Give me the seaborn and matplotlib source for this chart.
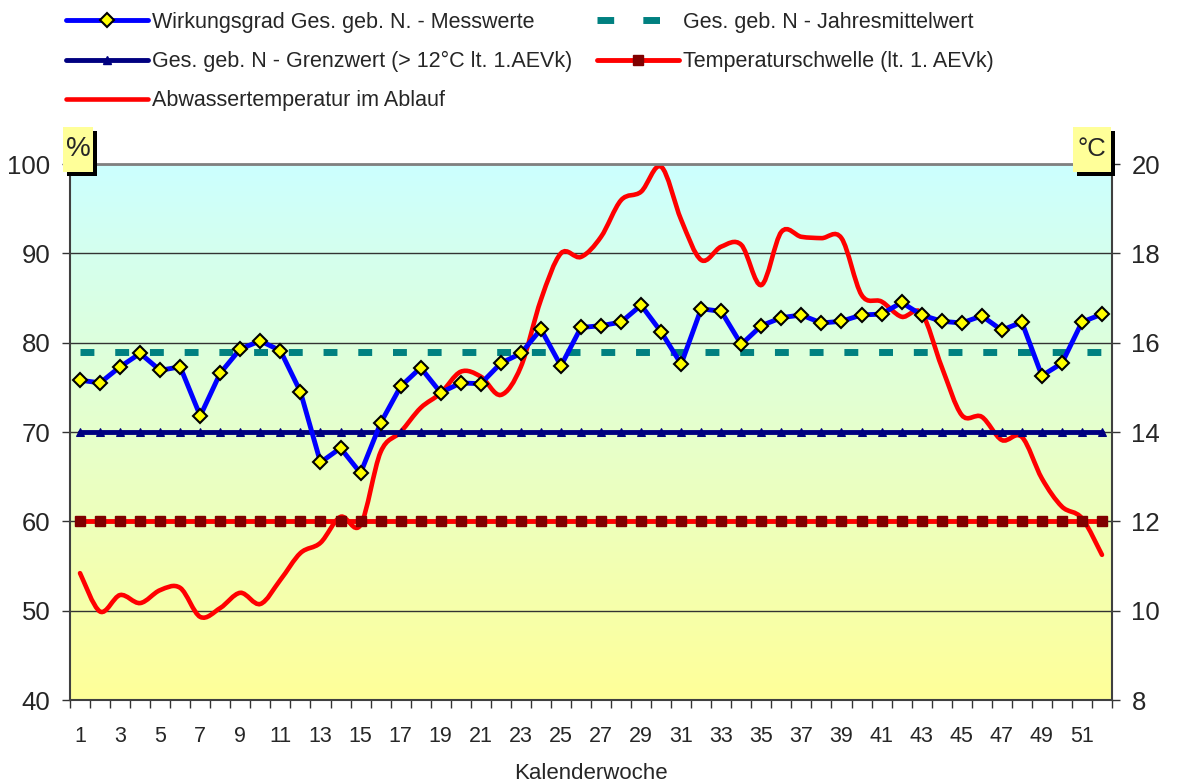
import numpy as np
import matplotlib
matplotlib.use('Agg')
import matplotlib.pyplot as plt
import seaborn as sns
from matplotlib.colors import LinearSegmentedColormap
from matplotlib.path import Path
from matplotlib.patches import PathPatch, Rectangle
from matplotlib.lines import Line2D

# --- data ---
weeks = list(range(1, 53))
wirkungsgrad = [75.8, 75.5, 77.3, 78.8, 76.9, 77.3, 71.8, 76.6, 79.3, 80.2,
                79.1, 74.5, 66.6, 68.2, 65.4, 71.0, 75.1, 77.2, 74.4, 75.5,
                75.4, 77.7, 78.8, 81.5, 77.4, 81.7, 81.9, 82.3, 84.2, 81.2,
                77.6, 83.8, 83.5, 79.8, 81.9, 82.8, 83.1, 82.2, 82.4, 83.1,
                83.2, 84.5, 83.1, 82.4, 82.2, 83.0, 81.4, 82.3, 76.3, 77.7,
                82.3, 83.2]
temperatur = [10.84, 9.98, 10.35, 10.17, 10.46, 10.51, 9.86, 10.06, 10.40, 10.15,
              10.69, 11.29, 11.52, 12.10, 11.92, 13.55, 14.00, 14.54, 14.87, 15.35,
              15.24, 14.83, 15.46, 16.96, 18.00, 17.92, 18.37, 19.19, 19.38, 19.94,
              18.75, 17.85, 18.15, 18.19, 17.29, 18.48, 18.37, 18.34, 18.34, 17.07,
              16.92, 16.58, 16.66, 15.46, 14.38, 14.34, 13.82, 13.89, 12.96, 12.33,
              12.07, 11.25]
jahresmittel = 78.9
grenzwert = 70
temp_schwelle = 12
pct_ticks = [40, 50, 60, 70, 80, 90, 100]
temp_ticks = [8, 10, 12, 14, 16, 18, 20]

labels_left = ["Wirkungsgrad Ges. geb. N. - Messwerte",
               "Ges. geb. N - Grenzwert (> 12°C lt. 1.AEVk)",
               "Abwassertemperatur im Ablauf"]
labels_right = ["Ges. geb. N - Jahresmittelwert",
                "Temperaturschwelle (lt. 1. AEVk)"]

sns.set_style('ticks')
plt.rcParams['font.family'] = ['Liberation Sans', 'DejaVu Sans']

W, H = 1178, 783
fig = plt.figure(figsize=(W / 100, H / 100), dpi=100)
ax = fig.add_axes([70 / W, 1 - 700 / H, (1112 - 70) / W, (700 - 164) / H])
ax2 = ax.twinx()
ax.set_zorder(ax2.get_zorder() + 1)
ax.patch.set_visible(False)


def smooth_path(x, y):
    # Excel-style smoothed line: cubic bezier through every point
    x = np.asarray(x, float)
    y = np.asarray(y, float)
    px = np.concatenate([[x[0]], x, [x[-1]]])
    py = np.concatenate([[y[0]], y, [y[-1]]])
    verts = [(x[0], y[0])]
    codes = [Path.MOVETO]
    for i in range(1, len(x)):
        c1 = (px[i] + (px[i + 1] - px[i - 1]) / 6, py[i] + (py[i + 1] - py[i - 1]) / 6)
        c2 = (px[i + 1] - (px[i + 2] - px[i]) / 6, py[i + 1] - (py[i + 2] - py[i]) / 6)
        verts += [c1, c2, (px[i + 1], py[i + 1])]
        codes += [Path.CURVE4] * 3
    return Path(verts, codes)


# background gradient on the lower (temperature) axis
cmap = LinearSegmentedColormap.from_list('bg', ['#FFFF99', '#CCFFFF'])
grad = np.linspace(0, 1, 256).reshape(-1, 1)
ax2.imshow(grad, extent=(0, 1, 0, 1), transform=ax2.transAxes, aspect='auto',
           cmap=cmap, origin='lower', zorder=0)

# temperature curve + threshold on right axis
ax2.add_patch(PathPatch(smooth_path(weeks, temperatur), fill=False,
                        edgecolor='#FF0000', lw=3.3, zorder=2, capstyle='round'))
ax2.plot(weeks, [temp_schwelle] * len(weeks), color='#FF0000', lw=3.5,
         marker='s', ms=7, mfc='#800000', mec='#800000', zorder=3)
ax2.set_ylim(8, 20)
ax2.set_xlim(0.5, 52.5)
ax2.set_yticks(temp_ticks)
ax2.yaxis.grid(True, color='#333333', lw=1.0)
ax2.set_axisbelow(True)
for s in ax2.spines.values():
    s.set_visible(False)
ax2.tick_params(axis='y', labelsize=18.5, length=6, width=1, pad=8, color='#333333')

# percent series on left axis
sns.lineplot(x=weeks, y=[grenzwert] * len(weeks), ax=ax, color='#000080', lw=3.5,
             marker='^', ms=6, mec='#000080', legend=False)
sns.lineplot(x=weeks, y=[jahresmittel] * len(weeks), ax=ax, color='#008080', lw=5,
             dashes=(2, 3), legend=False)
sns.lineplot(x=weeks, y=wirkungsgrad, ax=ax, color='#0000FF', lw=3.5,
             marker='D', ms=7, mfc='#FFFF00', mec='black', mew=1.5, legend=False)
ax.set_ylim(40, 100)
ax.set_xlim(0.5, 52.5)
ax.set_yticks(pct_ticks)
ax.set_xticks(weeks[::2])
ax.set_xticks(np.arange(0.5, 53, 1), minor=True)
ax.tick_params(axis='x', which='major', length=0, labelsize=15.5, pad=18.5)
ax.tick_params(axis='x', which='minor', length=6, width=1, color='#333333')
ax.tick_params(axis='y', labelsize=18.5, length=6, width=1, pad=8, color='#333333')
ax.set_xlabel('Kalenderwoche', fontsize=16, labelpad=12)
ax.set_ylabel('')
for side in ['left', 'right', 'bottom']:
    ax.spines[side].set_color('#404040')
    ax.spines[side].set_linewidth(1.5)
ax.spines['top'].set_color('#808080')
ax.spines['top'].set_linewidth(2)

# unit boxes with shadow
for x0, txt, fs in [(63, '%', 20), (1073, '°C', 18.5)]:
    w = 30 if txt == '%' else 38
    fig.patches.append(Rectangle(((x0 + 4) / W, 1 - 176 / H), w / W, 45 / H,
                                 transform=fig.transFigure, fc='black', ec='none', zorder=5))
    fig.patches.append(Rectangle((x0 / W, 1 - 172 / H), w / W, 45 / H,
                                 transform=fig.transFigure, fc='#FFFF99', ec='none', zorder=6))
    fig.text((x0 + w / 2) / W, 1 - 149 / H, txt, fontsize=fs, ha='center',
             va='center', zorder=7)

# legend: two blocks, like the Excel layout
h_left = [
    Line2D([], [], color='#0000FF', lw=3.5, marker='D', ms=7, mfc='#FFFF00', mec='black', mew=1.5),
    Line2D([], [], color='#000080', lw=3.5, marker='^', ms=6),
    Line2D([], [], color='#FF0000', lw=3.3),
]
h_right = [
    Line2D([], [], color='#008080', lw=5, dashes=(2.4, 4.2)),
    Line2D([], [], color='#FF0000', lw=3.5, marker='s', ms=7, mfc='#800000', mec='#800000'),
]
leg_kw = dict(loc='upper left', frameon=False, fontsize=15.5, handlelength=3.8,
              handletextpad=0.19, labelspacing=0.84, borderpad=0, borderaxespad=0)
fig.legend(h_left, labels_left, bbox_to_anchor=(66 / W, 1 - 12 / H), **leg_kw)
fig.legend(h_right, labels_right, bbox_to_anchor=(597 / W, 1 - 12 / H), **leg_kw)

fig.savefig('out.png', dpi=100)
